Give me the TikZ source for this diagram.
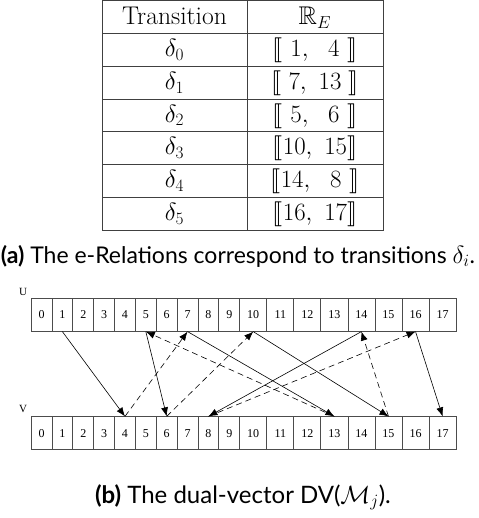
\documentclass[tikz,border=0pt]{standalone}
\usepackage{amssymb}
\usepackage{stmaryrd}
\usepackage{fontspec}
\newfontfamily\capfont{Lato}
\newfontfamily\cellfont{Liberation Serif}
\usetikzlibrary{arrows.meta}
\begin{document}
\begin{tikzpicture}[x=1pt,y=-1pt,
  tabline/.style={draw=black!75, line width=0.8pt},
  tabtext/.style={font=\fontsize{25.6}{30}\selectfont, inner sep=0pt, anchor=base},
  cellbase/.style={draw=black!70, line width=0.8pt, minimum height=33pt, inner sep=0pt, anchor=west, font=\cellfont\fontsize{12}{14}\selectfont},
  one/.style={cellbase, minimum width=20.86pt},
  two/.style={cellbase, minimum width=27.05pt},
  solidarrow/.style={-{Latex[length=9pt,width=7pt]}, line width=0.6pt},
  dasharrow/.style={solidarrow, dash pattern=on 6pt off 4pt},
  captext/.style={font=\capfont\fontsize{23}{28}\selectfont, inner sep=0pt, anchor=base}
]
\useasboundingbox (0,0) rectangle (478,518);
% table
\draw[tabline] (102,0.7) rectangle (383,230);
\draw[tabline] (247,0.7) -- (247,230);
\foreach \yy in {33.3,66.1,99,131.8,164.6,197.4} \draw[tabline] (102,\yy) -- (383,\yy);
\node[tabtext] (h1) at (174.5,24.5) {Transition};
\node[tabtext] (h2) at (315,24.5) {$\mathbb{R}_E$};
\node[tabtext] (d0) at (174.5,56.5) {$\delta_0$};
\node[tabtext] (d1) at (174.5,89.3) {$\delta_1$};
\node[tabtext] (d2) at (174.5,122.2) {$\delta_2$};
\node[tabtext] (d3) at (174.5,155) {$\delta_3$};
\node[tabtext] (d4) at (174.5,187.8) {$\delta_4$};
\node[tabtext] (d5) at (174.5,220.6) {$\delta_5$};
\node[tabtext] (r0) at (315,56.5) {$\llbracket\ 1,\ \ 4\ \rrbracket$};
\node[tabtext] (r1) at (315,89.3) {$\llbracket\;7,\ 13\;\rrbracket$};
\node[tabtext] (r2) at (315,122.2) {$\llbracket\ 5,\ \ 6\ \rrbracket$};
\node[tabtext] (r3) at (315,155) {$\llbracket 10,\ 15\rrbracket$};
\node[tabtext] (r4) at (315,187.8) {$\llbracket 14,\ \ 8\ \rrbracket$};
\node[tabtext] (r5) at (315,220.6) {$\llbracket 16,\ 17\rrbracket$};
% caption a
\node[captext] (capa) at (238,263) {\textbf{(a)} The e-Relations correspond to transitions $\delta_i$.};
% vectors
\node[font=\cellfont\fontsize{11}{13}\selectfont, inner sep=0pt] (ulab) at (23,292) {U};
\node[font=\cellfont\fontsize{11}{13}\selectfont, inner sep=0pt] (vlab) at (23,409) {V};
\foreach \i in {0,...,9} {
  \node[one] (u\i) at ({30.7+20.86*\i},314.7) {\i};
  \node[one] (v\i) at ({30.7+20.86*\i},433.3) {\i};
}
\foreach \i in {10,...,17} {
  \node[two] (u\i) at ({239.3+27.05*(\i-10)},314.7) {\i};
  \node[two] (v\i) at ({239.3+27.05*(\i-10)},433.3) {\i};
}
% solid arrows U -> V
\foreach \a/\b in {1/4,5/6,7/13,10/15,14/8,16/17}
  \draw[solidarrow] (u\a.south) -- (v\b.north);
% dashed arrows V -> U
\foreach \a/\b in {4/7,6/10,13/5,8/16,15/14}
  \draw[dasharrow] (v\a.north) -- (u\b.south);
% caption b
\node[captext, font=\capfont\fontsize{24}{28}\selectfont] (capb) at (243,503) {\textbf{(b)} The dual-vector DV($\mathcal{M}_j$).};
\end{tikzpicture}
\end{document}
